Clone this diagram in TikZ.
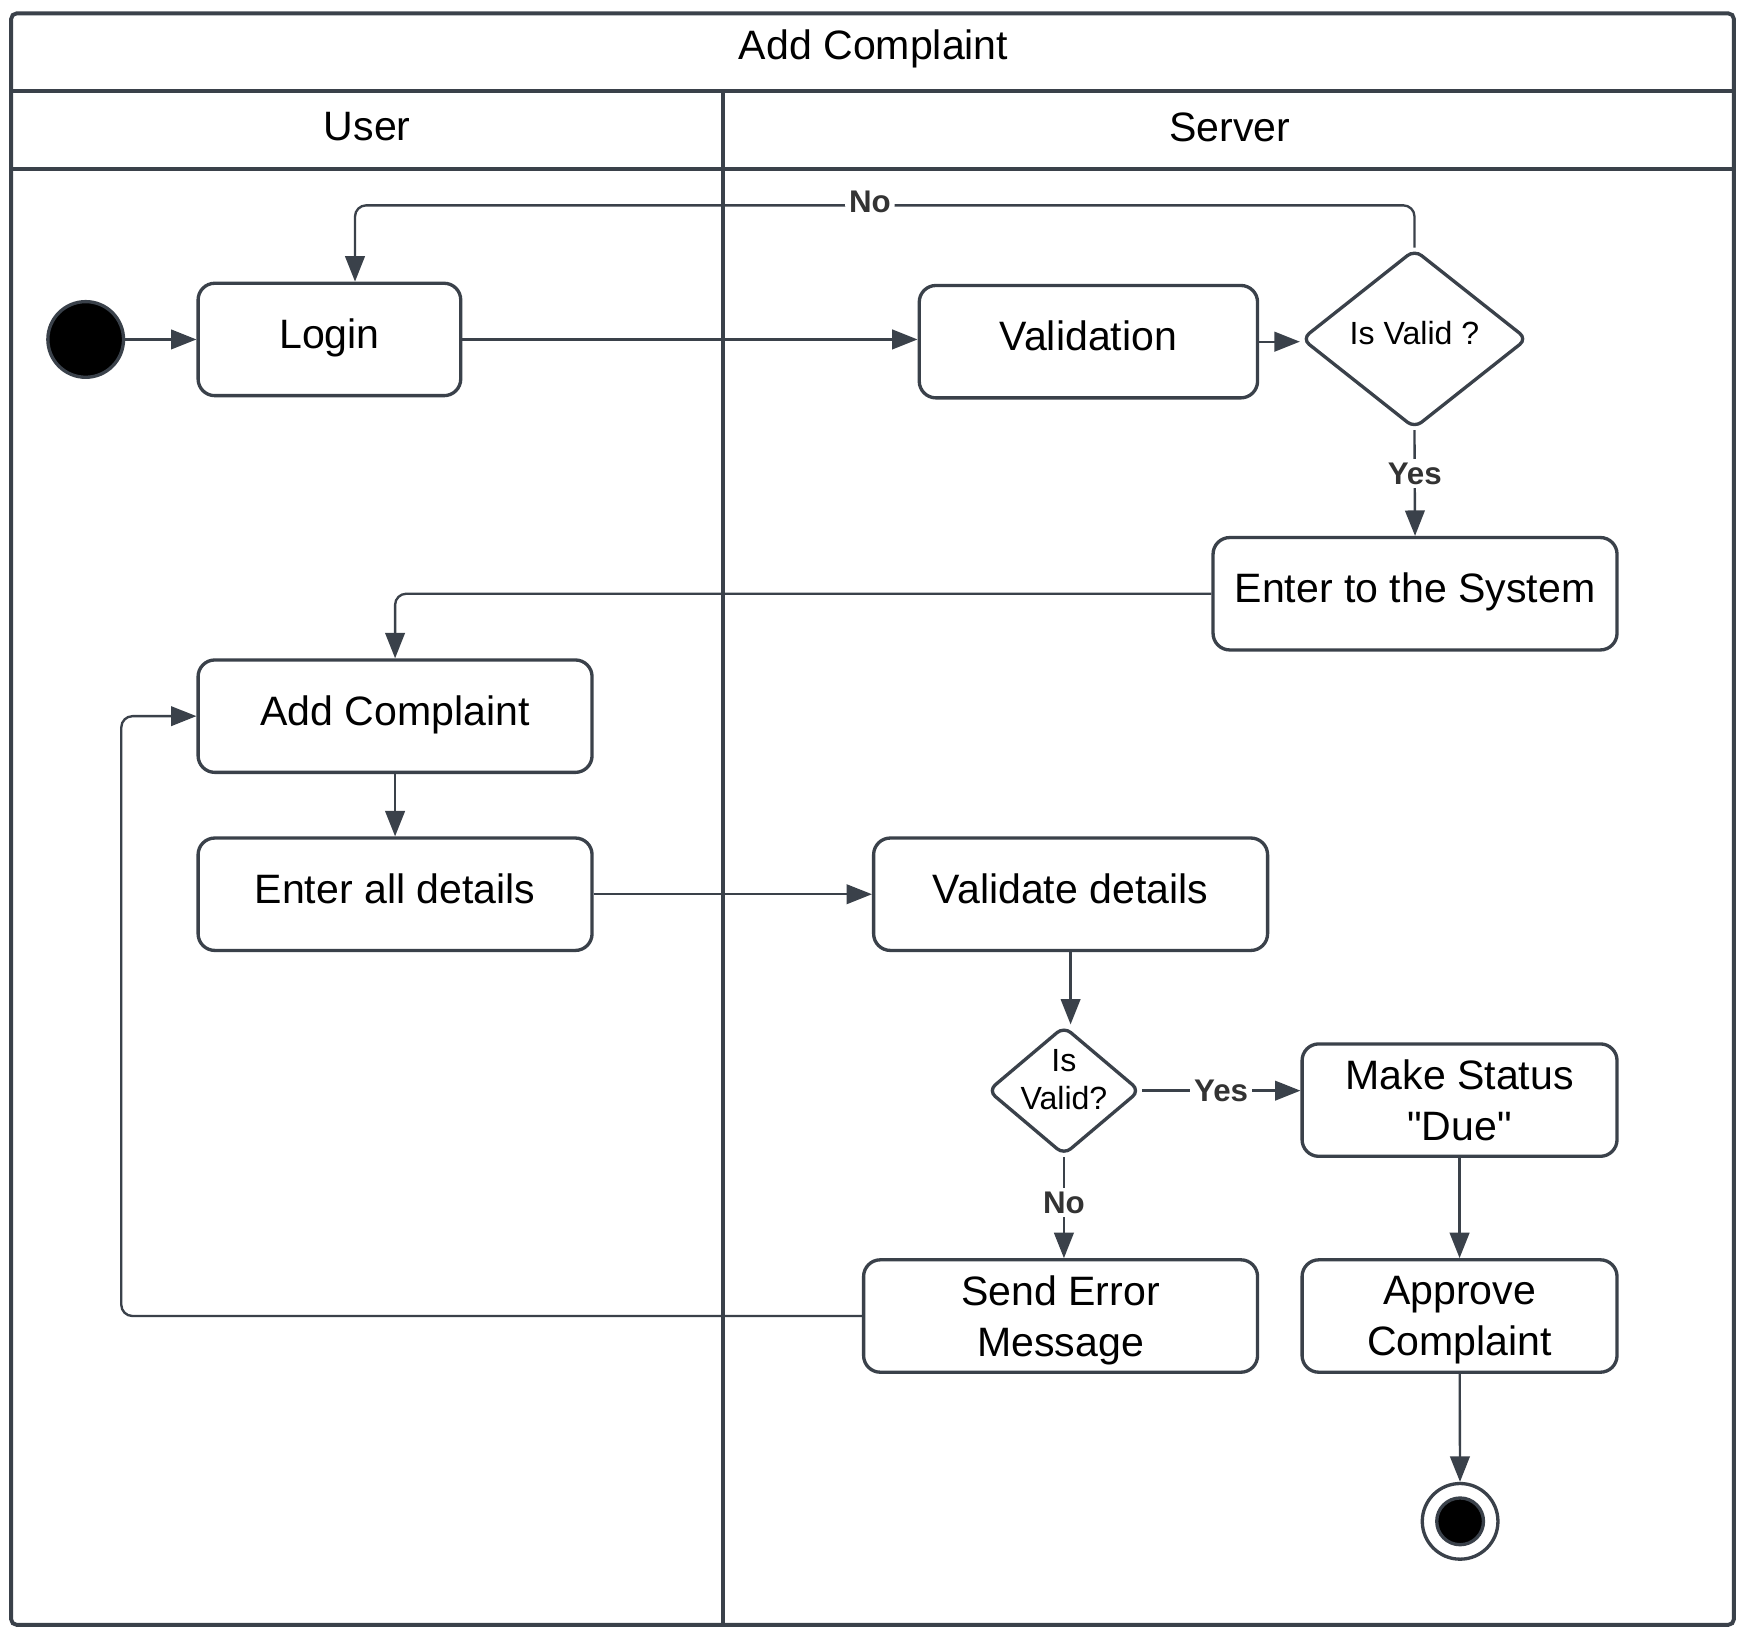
\documentclass[tikz,border=0pt]{standalone}
\usepackage{fontspec}
\setmainfont{Liberation Sans}[Ligatures=TeXOff]
\usepackage{tikz}
\usetikzlibrary{arrows.meta,shapes.geometric,calc}
\definecolor{edge}{RGB}{58,65,74}
\definecolor{labeltext}{RGB}{51,51,51}
\tikzset{
  act/.style={draw=edge, line width=0.85pt, rounded corners=0.15cm, minimum height=1.01cm,
    align=center, inner sep=0pt, text depth=0.3em, font=\fontsize{10.5}{13}\selectfont},
  choice/.style={draw=edge, diamond, line width=0.85pt, rounded corners=0.08cm, inner sep=0pt,
    align=center, text depth=0.3em, font=\fontsize{8.2}{9.9}\selectfont},
  flow/.style={draw=edge, line width=0.6pt, -{Triangle[length=6.5pt,width=5pt]}},
  guard/.style={fill=white, inner sep=1pt, text=labeltext, font=\fontsize{8}{9}\selectfont\bfseries},
  lane/.style={font=\fontsize{10.5}{12.5}\selectfont}
}

\begin{document}
\begin{tikzpicture}
  \useasboundingbox (0,0) rectangle (15.68,-14.68);
  % Swimlane frame
  \draw[edge, line width=1pt, rounded corners=0.05cm] (0.10,-0.12) rectangle (15.58,-14.60);
  \draw[edge, line width=1pt] (0.10,-0.82) -- (15.58,-0.82);
  \draw[edge, line width=1pt] (0.10,-1.52) -- (15.58,-1.52);
  \draw[edge, line width=1pt] (6.50,-0.82) -- (6.50,-14.60);
  \node[lane] (title) at (7.85,-0.44) {Add Complaint};
  \node[lane] (user) at (3.30,-1.14) {User};
  \node[lane] (server) at (11.05,-1.14) {Server};
  % Start and end
  \node[circle, draw=edge, line width=0.85pt, fill=black, minimum size=0.68cm] (start) at (0.77,-3.05) {};
  \node[circle, draw=edge, line width=0.85pt, minimum size=0.68cm] (stop) at (13.12,-13.67) {};
  \node[circle, draw=edge, line width=0.85pt, fill=black, minimum size=0.42cm] (stopdot) at (stop) {};
  % Activities
  \node[act, minimum width=2.36cm] (login) at (2.96,-3.05) {Login};
  \node[act, minimum width=3.04cm] (valid) at (9.78,-3.07) {Validation};
  \node[choice, minimum width=2.03cm, minimum height=1.61cm] (isvalid) at (12.71,-3.045) {Is Valid ?};
  \node[act, minimum width=3.63cm] (enter) at (12.715,-5.335) {Enter to the System};
  \node[act, minimum width=3.54cm] (addc) at (3.55,-6.435) {Add Complaint};
  \node[act, minimum width=3.54cm] (details) at (3.55,-8.035) {Enter all details};
  \node[act, minimum width=3.54cm] (vdet) at (9.62,-8.035) {Validate details};
  \node[choice, inner sep=-0.12cm, aspect=1.18, text depth=0.2cm, minimum width=1.37cm,
    minimum height=1.16cm] (isvalid2) at (9.56,-9.80) {Is\\Valid?};
  \node[act, text depth=0pt, minimum width=2.83cm] (status) at (13.115,-9.885) {Make Status\\"Due"};
  \node[act, text depth=0pt, minimum width=3.54cm] (error) at (9.53,-11.825) {Send Error\\Message};
  \node[act, text depth=0pt, minimum width=2.83cm] (approve) at (13.115,-11.825) {Approve\\Complaint};
  % Connectors
  \coordinate (back) at (1.09,-6.435);
  \draw[flow] (start) -- (login);
  \draw[flow] (login.east) -- (login.east -| valid.west);
  \draw[flow] (valid.east) -- (valid.east -| isvalid.west);
  \draw[flow, rounded corners=0.1cm] (isvalid.north) -- ++(0,0.38)
    -| node[guard, pos=0.257, yshift=0.03cm] (no1) {No} ([xshift=0.23cm]login.north);
  \draw[flow] (isvalid.south) -- node[guard, pos=0.41] (yes1) {Yes} (enter.north);
  \draw[flow, rounded corners=0.1cm] (enter.west) -| (addc.north);
  \draw[flow] (addc) -- (details);
  \draw[flow] (details.east) -- (details.east -| vdet.west);
  \draw[flow] (vdet.south) -- (vdet.south |- isvalid2.north);
  \draw[flow] (isvalid2.east) -- node[guard] (yes2) {Yes} (isvalid2.east -| status.west);
  \draw[flow] (isvalid2.south) -- node[guard, pos=0.45] (no2) {No} (isvalid2.south |- error.north);
  \draw[flow] (status) -- (approve);
  \draw[flow] (approve) -- (stop);
  \draw[flow, rounded corners=0.1cm] (error.west) -| (back) -- (addc.west);
\end{tikzpicture}
\end{document}
